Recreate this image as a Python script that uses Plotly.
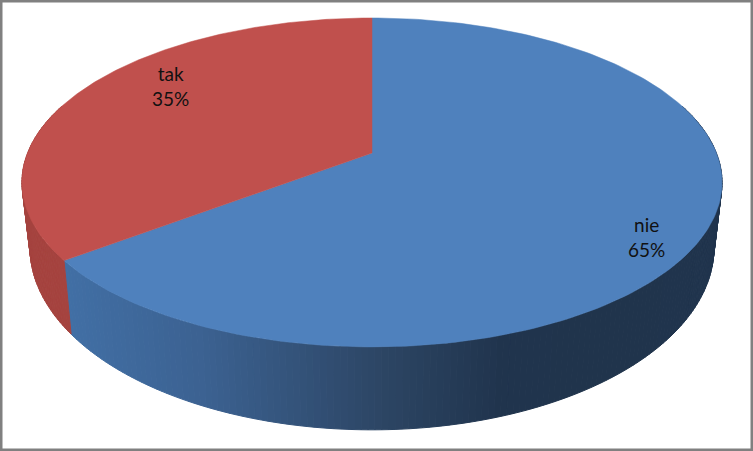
import numpy as np
import plotly.graph_objects as go

# data
labels = ["nie", "tak"]
values = [64.7, 35.3]
percent_text = ["65%", "35%"]

top_colors = ["#4F81BD", "#C0504D"]
label_x = [646, 170]
label_y = [237, 86]

# gradient of the side wall, by screen x
wall_stops_x = [60, 200, 380, 500, 600, 725]
wall_blue = [(66, 112, 166), (60, 98, 146), (45, 70, 101), (33, 53, 78), (32, 52, 76), (33, 53, 78)]
wall_red = (165, 67, 63)

# projection of the tilted disc
CX, APEX_Y = 372, 153
A, B, K = 344.4, 159.2, 0.179
MID_Y = 182.5
SCALE_X, SCALE_Y, BOTTOM_MID_Y = 0.977, 1.109, 247.5


def top_rim(theta):
    # theta in radians, clockwise from 12 o'clock
    px, py = np.sin(theta), -np.cos(theta)
    d = 1 - K * py
    return CX + A * px / d, APEX_Y + B * py / d


def bottom_rim(theta):
    x, y = top_rim(theta)
    return CX + SCALE_X * (x - CX), BOTTOM_MID_Y + SCALE_Y * (y - MID_Y)


def wall_color(x, i):
    if i == 1:
        return "rgb(%d,%d,%d)" % wall_red
    rgb = [np.interp(x, wall_stops_x, [c[k] for c in wall_blue]) for k in range(3)]
    return "rgb(%d,%d,%d)" % tuple(rgb)


fractions = np.array(values) / sum(values)
edges = np.concatenate([[0], np.cumsum(fractions)]) * 2 * np.pi

fig = go.Figure()

# side walls first, only the front half shows
for i in range(len(values)):
    lo = max(edges[i], np.pi * 0.4)
    hi = min(edges[i + 1], np.pi * 1.6)
    steps = np.linspace(lo, hi, int((hi - lo) * 60) + 2)
    for t0, t1 in zip(steps[:-1], steps[1:]):
        arc = np.array([t0, t1])
        xt, yt = top_rim(arc)
        xb, yb = bottom_rim(arc)
        c = wall_color(xt.mean(), i)
        fig.add_trace(go.Scatter(
            x=[xt[0], xt[1], xb[1], xb[0], xt[0]],
            y=[yt[0], yt[1], yb[1], yb[0], yt[0]],
            mode="lines", fill="toself", fillcolor=c,
            line=dict(color=c, width=1), hoverinfo="skip", showlegend=False
        ))

# top face
for i in range(len(values)):
    arc = np.linspace(edges[i], edges[i + 1], 200)
    xt, yt = top_rim(arc)
    fig.add_trace(go.Scatter(
        x=np.concatenate([[CX], xt, [CX]]),
        y=np.concatenate([[APEX_Y], yt, [APEX_Y]]),
        mode="lines", fill="toself", fillcolor=top_colors[i],
        line=dict(color=top_colors[i], width=0.5),
        name=labels[i], showlegend=False
    ))
    fig.add_annotation(
        x=label_x[i], y=label_y[i], text=labels[i] + "<br>" + percent_text[i],
        showarrow=False, font=dict(family="Lato", size=19, color="#111111")
    )

fig.update_layout(
    width=753, height=451,
    margin=dict(l=0, r=0, t=0, b=0),
    paper_bgcolor="white", plot_bgcolor="white",
    xaxis=dict(range=[0, 753], visible=False, fixedrange=True),
    yaxis=dict(range=[451, 0], visible=False, fixedrange=True),
    shapes=[dict(type="rect", xref="paper", yref="paper", x0=0, y0=0, x1=1, y1=1,
                 line=dict(color="#808080", width=5))]
)

# the page's default body margin would shift the chart by 8px
fig.write_html("out.html", config=dict(displayModeBar=False),
               post_script="document.body.style.margin='0';document.documentElement.style.overflow='hidden';")
